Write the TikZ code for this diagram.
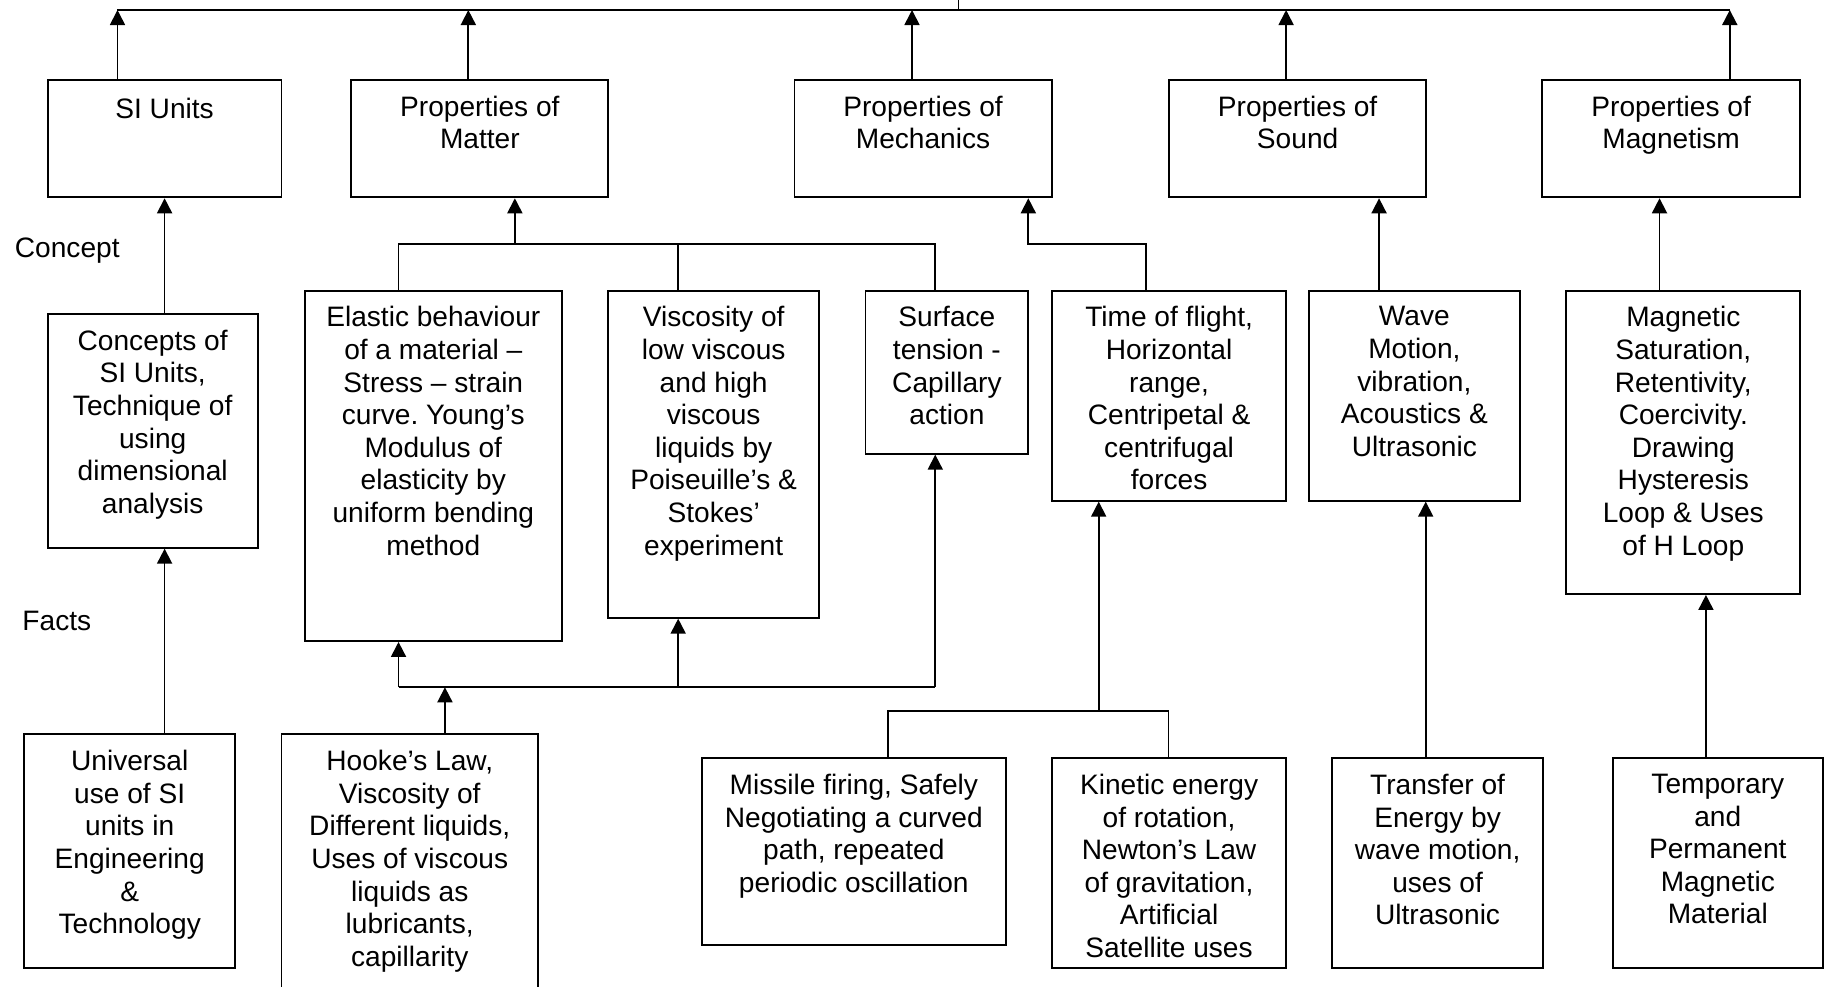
\documentclass[tikz,border=0pt]{standalone}
\usepackage{fontspec}
\setmainfont{Liberation Sans}
\usetikzlibrary{arrows.meta,fit,calc}
\newcommand\boxfont{\fontsize{16}{18.55}\selectfont}
\frenchspacing
\tikzset{
  box/.style={draw, line width=1.1pt, inner sep=0pt},
  boxtext/.style={anchor=north, yshift=-9.4pt, inner sep=0pt, align=center, font=\boxfont, execute at begin node=\strut},
  link/.style={line width=1pt},
  arr/.style={link, -{Triangle[length=0.3cm,width=0.3cm]}},
  side/.style={anchor=base west, inner sep=0pt, font=\boxfont}
}

\begin{document}
\begin{tikzpicture}[x=0.023265cm, y=-0.023265cm]
\useasboundingbox (0,0) rectangle (1568,848);
% subjects
\node [box, fit={(41,68.8) (242,169.6)}] (si) {};
\node [box, fit={(302,68.8) (523,169.6)}] (mat) {};
\node [box, fit={(683,68.8) (904,169.6)}] (mech) {};
\node [box, fit={(1005,68.8) (1226,169.6)}] (snd) {};
\node [box, fit={(1325.6,68.8) (1547.6,169.6)}] (mag) {};
\node [boxtext] (si-t) at (si.north) {SI Units};
\node [boxtext] (mat-t) at (mat.north) {Properties of\\Matter};
\node [boxtext] (mech-t) at (mech.north) {Properties of\\Mechanics};
\node [boxtext] (snd-t) at (snd.north) {Properties of\\Sound};
\node [boxtext] (mag-t) at (mag.north) {Properties of\\Magnetism};
% concepts
\node [box, fit={(41,270) (221.5,470.8)}] (conc) {};
\node [box, fit={(262,249.9) (483,551)}] (elas) {};
\node [box, fit={(523,249.9) (704,531)}] (visc) {};
\node [box, fit={(744,249.9) (884,390)}] (surf) {};
\node [box, fit={(904.5,249.9) (1105.5,430.4)}] (time) {};
\node [box, fit={(1125,249.9) (1306.7,430.4)}] (wave) {};
\node [box, fit={(1346.5,249.9) (1547.6,510.6)}] (magn) {};
\node [boxtext] (conc-t) at (conc.north) {Concepts of\\SI Units,\\Technique of\\using\\dimensional\\analysis};
\node [boxtext] (elas-t) at (elas.north) {Elastic behaviour\\of a material –\\Stress – strain\\curve. Young’s\\Modulus of\\elasticity by\\uniform bending\\method};
\node [boxtext] (visc-t) at (visc.north) {Viscosity of\\low viscous\\and high\\viscous\\liquids by\\Poiseuille’s \&\\Stokes’\\experiment};
\node [boxtext] (surf-t) at (surf.north) {Surface\\tension -\\Capillary\\action};
\begin{scope}
\clip (time.north west) rectangle ($(time.south east)+(0,-9)$);
\node [boxtext] (time-t) at (time.north) {Time of flight,\\Horizontal\\range,\\Centripetal \&\\centrifugal\\forces};
\end{scope}
\node [boxtext] (wave-t) at (wave.north) {Wave\\Motion,\\vibration,\\Acoustics \&\\Ultrasonic};
\node [boxtext] (magn-t) at (magn.north) {Magnetic\\Saturation,\\Retentivity,\\Coercivity.\\Drawing\\Hysteresis\\Loop \& Uses\\of H Loop};
% facts
\node [box, fit={(21,631.3) (202,832.4)}] (univ) {};
\node [box, fit={(242,631.3) (462.5,870)}] (hooke) {};
\node [box, fit={(603.5,651.9) (864.5,812.3)}] (miss) {};
\node [box, fit={(904.5,651.9) (1105.5,832.4)}] (kin) {};
\node [box, fit={(1145,651.9) (1326.6,832.4)}] (trans) {};
\node [box, fit={(1386.6,651.9) (1566.8,832.4)}] (temp) {};
\node [boxtext] (univ-t) at (univ.north) {Universal\\use of SI\\units in\\Engineering\\\&\\Technology};
\node [boxtext] (hooke-t) at (hooke.north) {Hooke’s Law,\\Viscosity of\\Different liquids,\\Uses of viscous\\liquids as\\lubricants,\\capillarity};
\node [boxtext] (miss-t) at (miss.north) {Missile firing, Safely\\Negotiating a curved\\path, repeated\\periodic oscillation};
\node [boxtext] (kin-t) at (kin.north) {Kinetic energy\\of rotation,\\Newton’s Law\\of gravitation,\\Artificial\\Satellite uses};
\node [boxtext] (trans-t) at (trans.north) {Transfer of\\Energy by\\wave motion,\\uses of\\Ultrasonic};
\node [boxtext] (temp-t) at (temp.north) {Temporary\\and\\Permanent\\Magnetic\\Material};
% row labels
\node [side] (concept) at (12.5,221.2) {Concept};
\node [side] (facts) at (19,542.4) {Facts};
% junction points
\coordinate (root) at (824,-5);
\coordinate (barL) at (101,8.6);
\coordinate (barM) at (402.6,8.6);
\coordinate (barC) at (784,8.6);
\coordinate (barS) at (1105.6,8.6);
\coordinate (barR) at (1487,8.6);
\coordinate (busL) at (342.6,209.5);
\coordinate (busM) at (583,209.5);
\coordinate (busR) at (804,209.5);
\coordinate (busUp) at (442.6,209.5);
\coordinate (mbusL) at (884,209.5);
\coordinate (mbusR) at (985,209.5);
\coordinate (fbusL) at (342.6,590.8);
\coordinate (fbusM) at (583,590.8);
\coordinate (fbusR) at (804,590.8);
\coordinate (fbusH) at (382.5,590.8);
\coordinate (kbusL) at (763.6,611.5);
\coordinate (kbusM) at (944.5,611.5);
\coordinate (kbusR) at (1004.5,611.5);
\coordinate (xsnd) at (1185.5,0);
\coordinate (xwave) at (1225.6,0);
\coordinate (xmag) at (1426.6,0);
\coordinate (xmagn) at (1466.5,0);
% top bar
\draw [link] (barL) -- (barR);
\draw [link] (root) -- (root |- barL);
\draw [arr] (si.north -| barL) -- (barL);
\draw [arr] (mat.north -| barM) -- (barM);
\draw [arr] (mech.north -| barC) -- (barC);
\draw [arr] (snd.north -| barS) -- (barS);
\draw [arr] (mag.north -| barR) -- (barR);
% SI units
\draw [arr] (conc.north -| si.south) -- (si.south);
\draw [arr] (univ.north -| si.south) -- (conc.south -| si.south);
% matter
\draw [link] (elas.north -| busL) -- (busL) -- (busR) -- (surf.north -| busR);
\draw [link] (visc.north -| busM) -- (busM);
\draw [arr] (busUp) -- (mat.south -| busUp);
\draw [link] (fbusL) -- (fbusR);
\draw [arr] (fbusL) -- (elas.south -| fbusL);
\draw [arr] (fbusM) -- (visc.south -| fbusM);
\draw [arr] (fbusR) -- (surf.south -| fbusR);
\draw [arr] (hooke.north -| fbusH) -- (fbusH);
% mechanics
\draw [arr] (time.north -| mbusR) -- (mbusR) -- (mbusL) -- (mech.south -| mbusL);
\draw [link] (miss.north -| kbusL) -- (kbusL) -- (kbusR) -- (kin.north -| kbusR);
\draw [arr] (kbusM) -- (time.south -| kbusM);
% sound
\draw [arr] (wave.north -| xsnd) -- (snd.south -| xsnd);
\draw [arr] (trans.north -| xwave) -- (wave.south -| xwave);
% magnetism
\draw [arr] (magn.north -| xmag) -- (mag.south -| xmag);
\draw [arr] (temp.north -| xmagn) -- (magn.south -| xmagn);
\end{tikzpicture}
\end{document}
